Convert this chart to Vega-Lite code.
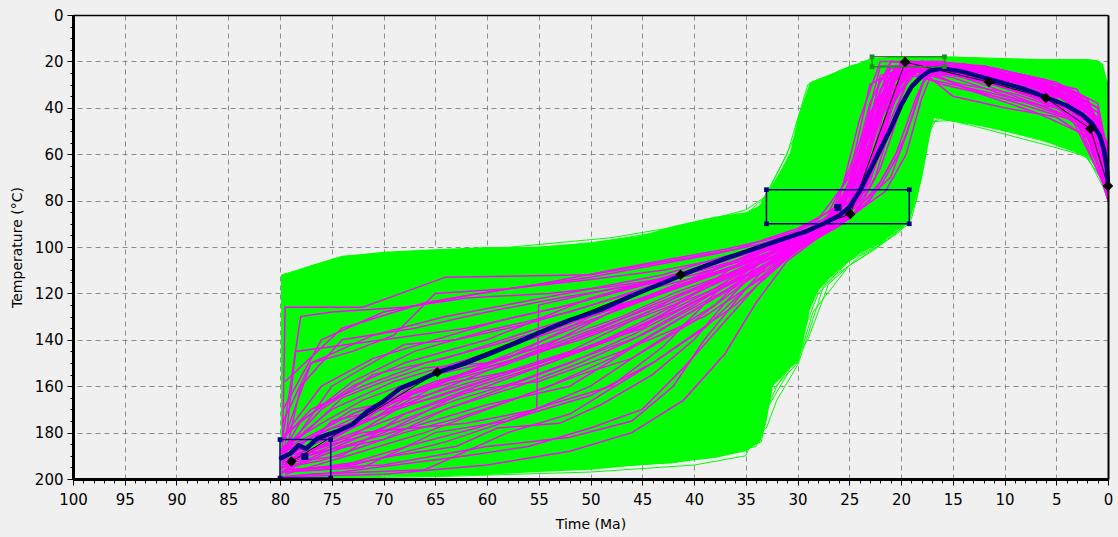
{
  "$schema": "https://vega.github.io/schema/vega-lite/v6.json",
  "width": 1035,
  "height": 464,
  "autosize": {"type": "none"},
  "padding": {"left": 73, "top": 15, "right": 10, "bottom": 58},
  "background": "#f0f0f0",
  "config": {"view": {"fill": "#f0f0f0", "stroke": null}},
  "datasets": {
    "env": [
      {"a":79.9,"top":112,"bot":200},{"a":79,"top":111,"bot":200},{"a":77,"top":108,"bot":200},{"a":74,"top":104,"bot":200},
      {"a":70,"top":102,"bot":199},{"a":65,"top":101,"bot":199},{"a":60,"top":100,"bot":198},{"a":55,"top":100,"bot":197},
      {"a":50,"top":98,"bot":196},{"a":45,"top":95,"bot":194},{"a":42,"top":91,"bot":193},{"a":38,"top":87,"bot":191},
      {"a":35,"top":85,"bot":188},{"a":33.6,"top":82,"bot":184},{"a":33,"top":77,"bot":175},{"a":32.4,"top":73,"bot":160},
      {"a":31.5,"top":66,"bot":156},{"a":30.7,"top":59,"bot":152},{"a":30,"top":45,"bot":150},{"a":29.5,"top":38,"bot":142},
      {"a":28.8,"top":29,"bot":127},{"a":28,"top":27.5,"bot":119},{"a":27,"top":26,"bot":114},{"a":26,"top":24,"bot":110},
      {"a":25,"top":22,"bot":106},{"a":24,"top":21,"bot":103},{"a":22.8,"top":19,"bot":100},{"a":22,"top":18.5,"bot":99},
      {"a":21,"top":18,"bot":95},{"a":20,"top":18,"bot":91.5},{"a":19.2,"top":18,"bot":90},{"a":18.5,"top":18,"bot":78},
      {"a":18,"top":18,"bot":70},{"a":17.5,"top":18,"bot":58},{"a":17.2,"top":18,"bot":50},{"a":16.8,"top":18,"bot":44},
      {"a":16,"top":18,"bot":45},{"a":15,"top":18,"bot":46},{"a":12,"top":18.5,"bot":48},{"a":10,"top":19,"bot":50},
      {"a":7,"top":19,"bot":53},{"a":4.6,"top":19,"bot":57},{"a":2,"top":19,"bot":61},{"a":1,"top":19.5,"bot":65},
      {"a":0.5,"top":21,"bot":74},{"a":0.1,"top":28,"bot":78},{"a":0,"top":30,"bot":79}
    ],
    "green": [
      {"p":1,"a":79.9,"t":199},{"p":1,"a":79.8,"t":112},{"p":1,"a":74,"t":104},{"p":1,"a":68,"t":102},{"p":1,"a":55,"t":100},{"p":1,"a":45,"t":97},{"p":1,"a":38,"t":93},{"p":1,"a":34,"t":85},{"p":1,"a":31,"t":60},{"p":1,"a":29,"t":30},{"p":1,"a":27,"t":26},{"p":1,"a":23,"t":19},{"p":1,"a":16,"t":18},{"p":1,"a":8,"t":19},{"p":1,"a":1,"t":20},{"p":1,"a":0,"t":30},
      {"p":2,"a":79.5,"t":197},{"p":2,"a":79.4,"t":115},{"p":2,"a":77,"t":108},{"p":2,"a":60,"t":101},{"p":2,"a":48,"t":96},{"p":2,"a":40,"t":90},{"p":2,"a":35,"t":84},{"p":2,"a":33,"t":78},{"p":2,"a":30,"t":50},{"p":2,"a":28,"t":30},{"p":2,"a":24,"t":21},{"p":2,"a":22.8,"t":19},{"p":2,"a":15,"t":19},{"p":2,"a":5,"t":22},{"p":2,"a":0.5,"t":25},{"p":2,"a":0,"t":40},
      {"p":3,"a":79.9,"t":199},{"p":3,"a":60,"t":198},{"p":3,"a":50,"t":195},{"p":3,"a":42,"t":193},{"p":3,"a":36,"t":188},{"p":3,"a":33.5,"t":184},{"p":3,"a":32.5,"t":162},{"p":3,"a":30,"t":150},{"p":3,"a":28.5,"t":128},{"p":3,"a":25,"t":108},{"p":3,"a":22.5,"t":101},{"p":3,"a":20,"t":92},{"p":3,"a":18.5,"t":72},{"p":3,"a":17.2,"t":50},{"p":3,"a":16.5,"t":44},{"p":3,"a":12,"t":49},{"p":3,"a":6,"t":56},{"p":3,"a":2,"t":61},{"p":3,"a":0.5,"t":74},{"p":3,"a":0,"t":80},
      {"p":4,"a":79.7,"t":198},{"p":4,"a":70,"t":197},{"p":4,"a":55,"t":193},{"p":4,"a":45,"t":191},{"p":4,"a":38,"t":189},{"p":4,"a":34,"t":186},{"p":4,"a":33,"t":170},{"p":4,"a":31,"t":155},{"p":4,"a":28,"t":120},{"p":4,"a":26,"t":111},{"p":4,"a":23,"t":102},{"p":4,"a":21,"t":96},{"p":4,"a":19,"t":88},{"p":4,"a":18,"t":70},{"p":4,"a":17,"t":46},{"p":4,"a":14,"t":45},{"p":4,"a":9,"t":51},{"p":4,"a":4,"t":57},{"p":4,"a":1,"t":64},{"p":4,"a":0,"t":78},
      {"p":5,"a":79.8,"t":200},{"p":5,"a":65,"t":199},{"p":5,"a":50,"t":197},{"p":5,"a":40,"t":194},{"p":5,"a":35,"t":190},{"p":5,"a":32,"t":160},{"p":5,"a":29,"t":140},{"p":5,"a":27,"t":116},{"p":5,"a":24,"t":104},{"p":5,"a":22,"t":99},{"p":5,"a":20,"t":93},{"p":5,"a":18.5,"t":80},{"p":5,"a":17.5,"t":55},{"p":5,"a":16.7,"t":42},{"p":5,"a":10,"t":48},{"p":5,"a":3,"t":55},{"p":5,"a":0,"t":75},
      {"p":6,"a":79.9,"t":195},{"p":6,"a":79.7,"t":120},{"p":6,"a":72,"t":114},{"p":6,"a":65,"t":112},{"p":6,"a":55,"t":108},{"p":6,"a":48,"t":104},{"p":6,"a":42,"t":98},{"p":6,"a":37,"t":92},{"p":6,"a":33,"t":85},{"p":6,"a":31,"t":66},{"p":6,"a":29.5,"t":44},{"p":6,"a":27,"t":30},{"p":6,"a":25,"t":22},{"p":6,"a":22.8,"t":20},{"p":6,"a":18,"t":18},{"p":6,"a":10,"t":21},{"p":6,"a":3,"t":24},{"p":6,"a":0,"t":50},
      {"p":7,"a":79.6,"t":199},{"p":7,"a":79.5,"t":125},{"p":7,"a":75,"t":118},{"p":7,"a":68,"t":110},{"p":7,"a":60,"t":105},{"p":7,"a":52,"t":100},{"p":7,"a":44,"t":94},{"p":7,"a":38,"t":90},{"p":7,"a":35,"t":86},{"p":7,"a":32,"t":74},{"p":7,"a":30.5,"t":58},{"p":7,"a":28.5,"t":32},{"p":7,"a":26,"t":24},{"p":7,"a":23,"t":20},{"p":7,"a":17,"t":22},{"p":7,"a":12,"t":30},{"p":7,"a":6,"t":28},{"p":7,"a":1,"t":30},{"p":7,"a":0,"t":45},
      {"p":8,"a":79.8,"t":198},{"p":8,"a":68,"t":196},{"p":8,"a":58,"t":192},{"p":8,"a":48,"t":188},{"p":8,"a":40,"t":185},{"p":8,"a":36,"t":182},{"p":8,"a":34,"t":176},{"p":8,"a":32,"t":150},{"p":8,"a":30,"t":135},{"p":8,"a":28,"t":118},{"p":8,"a":26,"t":108},{"p":8,"a":23,"t":98},{"p":8,"a":20,"t":91},{"p":8,"a":19,"t":80},{"p":8,"a":18,"t":60},{"p":8,"a":17,"t":44},{"p":8,"a":13,"t":47},{"p":8,"a":7,"t":52},{"p":8,"a":2,"t":59},{"p":8,"a":0,"t":72},
      {"p":9,"a":79.7,"t":196},{"p":9,"a":75,"t":180},{"p":9,"a":60,"t":160},{"p":9,"a":45,"t":140},{"p":9,"a":35,"t":118},{"p":9,"a":30,"t":105},{"p":9,"a":26,"t":95},{"p":9,"a":22,"t":80},{"p":9,"a":19.5,"t":60},{"p":9,"a":18.5,"t":44},{"p":9,"a":15,"t":42},{"p":9,"a":11,"t":48},{"p":9,"a":7,"t":53},{"p":9,"a":3,"t":56},{"p":9,"a":1,"t":68},{"p":9,"a":0,"t":76},
      {"p":10,"a":79.9,"t":193},{"p":10,"a":70,"t":175},{"p":10,"a":55,"t":150},{"p":10,"a":45,"t":128},{"p":10,"a":36,"t":112},{"p":10,"a":31,"t":100},{"p":10,"a":27,"t":92},{"p":10,"a":24,"t":70},{"p":10,"a":22,"t":50},{"p":10,"a":20,"t":40},{"p":10,"a":17,"t":40},{"p":10,"a":12,"t":44},{"p":10,"a":8,"t":50},{"p":10,"a":4,"t":52},{"p":10,"a":1,"t":60},{"p":10,"a":0,"t":70},
      {"p":11,"a":79.8,"t":190},{"p":11,"a":72,"t":165},{"p":11,"a":62,"t":150},{"p":11,"a":50,"t":140},{"p":11,"a":42,"t":130},{"p":11,"a":35,"t":115},{"p":11,"a":31,"t":106},{"p":11,"a":29,"t":100},{"p":11,"a":26,"t":96},{"p":11,"a":23,"t":92},{"p":11,"a":21,"t":80},{"p":11,"a":19,"t":55},{"p":11,"a":17.5,"t":40},{"p":11,"a":14,"t":36},{"p":11,"a":9,"t":42},{"p":11,"a":5,"t":48},{"p":11,"a":2,"t":52},{"p":11,"a":0,"t":65},
      {"p":12,"a":79.6,"t":199},{"p":12,"a":74,"t":198},{"p":12,"a":60,"t":196},{"p":12,"a":52,"t":190},{"p":12,"a":46,"t":180},{"p":12,"a":41,"t":170},{"p":12,"a":37,"t":150},{"p":12,"a":33,"t":120},{"p":12,"a":30,"t":100},{"p":12,"a":27,"t":85},{"p":12,"a":25,"t":60},{"p":12,"a":24,"t":38},{"p":12,"a":22,"t":24},{"p":12,"a":19,"t":19},{"p":12,"a":11,"t":20},{"p":12,"a":4,"t":22},{"p":12,"a":1,"t":24},{"p":12,"a":0,"t":35},
      {"p":13,"a":79.9,"t":185},{"p":13,"a":76,"t":140},{"p":13,"a":70,"t":130},{"p":13,"a":60,"t":120},{"p":13,"a":50,"t":110},{"p":13,"a":42,"t":104},{"p":13,"a":36,"t":97},{"p":13,"a":33,"t":88},{"p":13,"a":31,"t":75},{"p":13,"a":29,"t":55},{"p":13,"a":27,"t":40},{"p":13,"a":25,"t":28},{"p":13,"a":23,"t":22},{"p":13,"a":18,"t":19},{"p":13,"a":10,"t":19},{"p":13,"a":5,"t":20},{"p":13,"a":1,"t":22},{"p":13,"a":0,"t":32},
      {"p":14,"a":79.7,"t":199},{"p":14,"a":64,"t":197},{"p":14,"a":54,"t":194},{"p":14,"a":46,"t":192},{"p":14,"a":41,"t":190},{"p":14,"a":37,"t":187},{"p":14,"a":35,"t":184},{"p":14,"a":33,"t":178},{"p":14,"a":32,"t":166},{"p":14,"a":30,"t":151},{"p":14,"a":29,"t":138},{"p":14,"a":27.5,"t":117},{"p":14,"a":25,"t":106},{"p":14,"a":23,"t":101},{"p":14,"a":21,"t":95},{"p":14,"a":19.5,"t":91},{"p":14,"a":19,"t":84},{"p":14,"a":18,"t":64},{"p":14,"a":17.5,"t":48},{"p":14,"a":16,"t":44},{"p":14,"a":12,"t":48},{"p":14,"a":8,"t":52},{"p":14,"a":4,"t":56},{"p":14,"a":2,"t":60},{"p":14,"a":0.6,"t":70},{"p":14,"a":0,"t":79}
    ],
    "mag": [
      {"p":1,"a":79.8,"t":195},{"p":1,"a":79.5,"t":126},{"p":1,"a":72,"t":126},{"p":1,"a":64,"t":113},{"p":1,"a":50,"t":112},{"p":1,"a":36,"t":101},{"p":1,"a":30,"t":92},{"p":1,"a":27,"t":85},{"p":1,"a":24,"t":60},{"p":1,"a":21,"t":20},{"p":1,"a":16,"t":22},{"p":1,"a":10,"t":28},{"p":1,"a":5,"t":34},{"p":1,"a":2,"t":42},{"p":1,"a":0,"t":62},
      {"p":2,"a":79.6,"t":190},{"p":2,"a":78.5,"t":145},{"p":2,"a":70,"t":140},{"p":2,"a":62,"t":135},{"p":2,"a":52,"t":125},{"p":2,"a":40,"t":110},{"p":2,"a":30,"t":93},{"p":2,"a":26,"t":82},{"p":2,"a":22,"t":40},{"p":2,"a":20,"t":20},{"p":2,"a":15,"t":24},{"p":2,"a":8,"t":30},{"p":2,"a":3,"t":38},{"p":2,"a":0,"t":70},
      {"p":3,"a":79.9,"t":198},{"p":3,"a":75,"t":175},{"p":3,"a":65,"t":165},{"p":3,"a":55,"t":150},{"p":3,"a":45,"t":135},{"p":3,"a":35,"t":105},{"p":3,"a":28,"t":88},{"p":3,"a":25,"t":70},{"p":3,"a":23,"t":30},{"p":3,"a":19,"t":20},{"p":3,"a":12,"t":26},{"p":3,"a":6,"t":32},{"p":3,"a":1,"t":45},{"p":3,"a":0,"t":65},
      {"p":4,"a":79.5,"t":193},{"p":4,"a":74,"t":190},{"p":4,"a":68,"t":172},{"p":4,"a":60,"t":160},{"p":4,"a":48,"t":140},{"p":4,"a":38,"t":118},{"p":4,"a":30,"t":96},{"p":4,"a":27,"t":89},{"p":4,"a":24,"t":55},{"p":4,"a":21,"t":22},{"p":4,"a":16,"t":24},{"p":4,"a":10,"t":30},{"p":4,"a":4,"t":36},{"p":4,"a":0,"t":78},
      {"p":5,"a":79.9,"t":196},{"p":5,"a":77,"t":185},{"p":5,"a":70,"t":168},{"p":5,"a":66,"t":156},{"p":5,"a":58,"t":148},{"p":5,"a":50,"t":130},{"p":5,"a":42,"t":118},{"p":5,"a":33,"t":100},{"p":5,"a":28,"t":91},{"p":5,"a":25,"t":80},{"p":5,"a":22,"t":35},{"p":5,"a":19,"t":21},{"p":5,"a":13,"t":25},{"p":5,"a":7,"t":31},{"p":5,"a":2,"t":44},{"p":5,"a":0,"t":70},
      {"p":6,"a":79.7,"t":188},{"p":6,"a":78,"t":175},{"p":6,"a":73,"t":160},{"p":6,"a":68,"t":150},{"p":6,"a":60,"t":140},{"p":6,"a":50,"t":122},{"p":6,"a":42,"t":112},{"p":6,"a":35,"t":103},{"p":6,"a":29,"t":94},{"p":6,"a":26,"t":88},{"p":6,"a":23,"t":50},{"p":6,"a":18,"t":20},{"p":6,"a":12,"t":24},{"p":6,"a":6,"t":30},{"p":6,"a":2,"t":40},{"p":6,"a":0,"t":60},
      {"p":7,"a":79.8,"t":197},{"p":7,"a":72,"t":195},{"p":7,"a":65,"t":180},{"p":7,"a":58,"t":175},{"p":7,"a":50,"t":160},{"p":7,"a":45,"t":145},{"p":7,"a":38,"t":125},{"p":7,"a":32,"t":100},{"p":7,"a":28,"t":92},{"p":7,"a":26,"t":86},{"p":7,"a":24,"t":62},{"p":7,"a":22,"t":28},{"p":7,"a":17,"t":21},{"p":7,"a":11,"t":27},{"p":7,"a":5,"t":33},{"p":7,"a":1,"t":50},{"p":7,"a":0,"t":72},
      {"p":8,"a":79.4,"t":186},{"p":8,"a":76,"t":170},{"p":8,"a":71,"t":155},{"p":8,"a":64,"t":148},{"p":8,"a":55,"t":135},{"p":8,"a":45,"t":122},{"p":8,"a":36,"t":108},{"p":8,"a":31,"t":97},{"p":8,"a":27,"t":90},{"p":8,"a":25,"t":84},{"p":8,"a":22,"t":45},{"p":8,"a":20,"t":22},{"p":8,"a":14,"t":26},{"p":8,"a":9,"t":33},{"p":8,"a":3,"t":42},{"p":8,"a":0,"t":75},
      {"p":9,"a":79.9,"t":199},{"p":9,"a":77,"t":198},{"p":9,"a":66,"t":196},{"p":9,"a":58,"t":180},{"p":9,"a":52,"t":172},{"p":9,"a":44,"t":150},{"p":9,"a":36,"t":125},{"p":9,"a":31,"t":105},{"p":9,"a":28,"t":94},{"p":9,"a":25,"t":86},{"p":9,"a":22,"t":60},{"p":9,"a":19,"t":30},{"p":9,"a":17,"t":22},{"p":9,"a":11,"t":30},{"p":9,"a":5,"t":38},{"p":9,"a":1,"t":55},{"p":9,"a":0,"t":80},
      {"p":10,"a":79.6,"t":192},{"p":10,"a":75,"t":185},{"p":10,"a":69,"t":178},{"p":10,"a":62,"t":162},{"p":10,"a":55,"t":158},{"p":10,"a":47,"t":145},{"p":10,"a":39,"t":130},{"p":10,"a":33,"t":112},{"p":10,"a":29,"t":97},{"p":10,"a":26,"t":90},{"p":10,"a":23,"t":65},{"p":10,"a":21,"t":30},{"p":10,"a":18,"t":20},{"p":10,"a":12,"t":24},{"p":10,"a":7,"t":29},{"p":10,"a":2,"t":38},{"p":10,"a":0,"t":58},
      {"p":11,"a":79.7,"t":194},{"p":11,"a":78,"t":160},{"p":11,"a":74,"t":140},{"p":11,"a":67,"t":135},{"p":11,"a":60,"t":128},{"p":11,"a":53,"t":122},{"p":11,"a":45,"t":116},{"p":11,"a":37,"t":106},{"p":11,"a":30,"t":95},{"p":11,"a":27,"t":88},{"p":11,"a":25,"t":76},{"p":11,"a":22,"t":32},{"p":11,"a":20,"t":21},{"p":11,"a":15,"t":23},{"p":11,"a":9,"t":28},{"p":11,"a":4,"t":35},{"p":11,"a":0,"t":68},
      {"p":12,"a":79.9,"t":190},{"p":12,"a":76,"t":188},{"p":12,"a":70,"t":183},{"p":12,"a":64,"t":170},{"p":12,"a":57,"t":160},{"p":12,"a":51,"t":150},{"p":12,"a":46,"t":140},{"p":12,"a":40,"t":125},{"p":12,"a":34,"t":108},{"p":12,"a":30,"t":98},{"p":12,"a":27,"t":91},{"p":12,"a":24,"t":70},{"p":12,"a":22,"t":26},{"p":12,"a":18,"t":22},{"p":12,"a":13,"t":27},{"p":12,"a":8,"t":34},{"p":12,"a":2,"t":46},{"p":12,"a":0,"t":74},
      {"p":13,"a":79.5,"t":197},{"p":13,"a":73,"t":193},{"p":13,"a":67,"t":185},{"p":13,"a":61,"t":178},{"p":13,"a":54,"t":168},{"p":13,"a":48,"t":160},{"p":13,"a":43,"t":143},{"p":13,"a":38,"t":120},{"p":13,"a":33,"t":104},{"p":13,"a":28,"t":93},{"p":13,"a":26,"t":84},{"p":13,"a":23,"t":52},{"p":13,"a":21,"t":25},{"p":13,"a":16,"t":22},{"p":13,"a":10,"t":26},{"p":13,"a":5,"t":30},{"p":13,"a":1,"t":42},{"p":13,"a":0,"t":64},
      {"p":14,"a":79.8,"t":185},{"p":14,"a":77,"t":150},{"p":14,"a":73,"t":145},{"p":14,"a":69,"t":138},{"p":14,"a":65,"t":120},{"p":14,"a":58,"t":118},{"p":14,"a":50,"t":114},{"p":14,"a":43,"t":110},{"p":14,"a":36,"t":104},{"p":14,"a":31,"t":98},{"p":14,"a":28,"t":92},{"p":14,"a":26,"t":80},{"p":14,"a":24,"t":45},{"p":14,"a":22,"t":20},{"p":14,"a":16,"t":20},{"p":14,"a":10,"t":25},{"p":14,"a":4,"t":33},{"p":14,"a":0,"t":66},
      {"p":15,"a":79.6,"t":199},{"p":15,"a":74,"t":197},{"p":15,"a":62,"t":190},{"p":15,"a":56,"t":186},{"p":15,"a":50,"t":178},{"p":15,"a":45,"t":170},{"p":15,"a":41,"t":152},{"p":15,"a":37,"t":132},{"p":15,"a":33,"t":112},{"p":15,"a":29,"t":98},{"p":15,"a":27,"t":90},{"p":15,"a":25,"t":78},{"p":15,"a":23,"t":42},{"p":15,"a":20,"t":24},{"p":15,"a":15,"t":26},{"p":15,"a":9,"t":31},{"p":15,"a":4,"t":40},{"p":15,"a":0,"t":76},
      {"p":16,"a":79.9,"t":192},{"p":16,"a":77,"t":182},{"p":16,"a":73,"t":170},{"p":16,"a":66,"t":164},{"p":16,"a":59,"t":155},{"p":16,"a":52,"t":145},{"p":16,"a":47,"t":134},{"p":16,"a":41,"t":120},{"p":16,"a":35,"t":108},{"p":16,"a":31,"t":100},{"p":16,"a":28,"t":93},{"p":16,"a":26,"t":87},{"p":16,"a":24,"t":66},{"p":16,"a":21,"t":35},{"p":16,"a":19,"t":22},{"p":16,"a":14,"t":23},{"p":16,"a":8,"t":28},{"p":16,"a":3,"t":36},{"p":16,"a":0,"t":62},
      {"p":17,"a":79.7,"t":188},{"p":17,"a":75,"t":178},{"p":17,"a":71,"t":174},{"p":17,"a":67,"t":163},{"p":17,"a":63,"t":158},{"p":17,"a":57,"t":153},{"p":17,"a":50,"t":143},{"p":17,"a":44,"t":130},{"p":17,"a":39,"t":118},{"p":17,"a":34,"t":106},{"p":17,"a":30,"t":96},{"p":17,"a":27,"t":89},{"p":17,"a":25,"t":80},{"p":17,"a":23,"t":58},{"p":17,"a":21,"t":28},{"p":17,"a":17,"t":20},{"p":17,"a":12,"t":22},{"p":17,"a":6,"t":28},{"p":17,"a":2,"t":36},{"p":17,"a":0,"t":56},
      {"p":18,"a":79.5,"t":195},{"p":18,"a":76,"t":192},{"p":18,"a":72,"t":186},{"p":18,"a":68,"t":180},{"p":18,"a":63,"t":174},{"p":18,"a":57,"t":165},{"p":18,"a":51,"t":155},{"p":18,"a":46,"t":148},{"p":18,"a":40,"t":132},{"p":18,"a":35,"t":115},{"p":18,"a":31,"t":102},{"p":18,"a":28,"t":94},{"p":18,"a":26,"t":88},{"p":18,"a":24,"t":72},{"p":18,"a":22,"t":40},{"p":18,"a":20,"t":20},{"p":18,"a":14,"t":21},{"p":18,"a":8,"t":27},{"p":18,"a":3,"t":34},{"p":18,"a":0,"t":70},
      {"p":19,"a":79.9,"t":187},{"p":19,"a":78,"t":182},{"p":19,"a":74,"t":165},{"p":19,"a":70,"t":158},{"p":19,"a":66,"t":152},{"p":19,"a":60,"t":150},{"p":19,"a":54,"t":142},{"p":19,"a":48,"t":128},{"p":19,"a":42,"t":118},{"p":19,"a":37,"t":110},{"p":19,"a":32,"t":102},{"p":19,"a":29,"t":95},{"p":19,"a":27,"t":87},{"p":19,"a":25,"t":74},{"p":19,"a":23,"t":44},{"p":19,"a":21,"t":23},{"p":19,"a":16,"t":24},{"p":19,"a":11,"t":30},{"p":19,"a":6,"t":36},{"p":19,"a":1,"t":48},{"p":19,"a":0,"t":72},
      {"p":20,"a":79.6,"t":196},{"p":20,"a":70,"t":194},{"p":20,"a":60,"t":186},{"p":20,"a":52,"t":182},{"p":20,"a":46,"t":175},{"p":20,"a":42,"t":160},{"p":20,"a":39,"t":140},{"p":20,"a":35,"t":118},{"p":20,"a":32,"t":104},{"p":20,"a":29,"t":96},{"p":20,"a":27,"t":90},{"p":20,"a":25,"t":82},{"p":20,"a":23,"t":60},{"p":20,"a":22,"t":35},{"p":20,"a":19,"t":20},{"p":20,"a":13,"t":24},{"p":20,"a":7,"t":30},{"p":20,"a":2,"t":40},{"p":20,"a":0,"t":78},
      {"p":21,"a":79.8,"t":191},{"p":21,"a":72,"t":180},{"p":21,"a":62,"t":176},{"p":21,"a":55.2,"t":170},{"p":21,"a":55,"t":125},{"p":21,"a":48,"t":118},{"p":21,"a":40,"t":112},{"p":21,"a":33,"t":103},{"p":21,"a":29,"t":95},{"p":21,"a":26,"t":86},{"p":21,"a":23,"t":48},{"p":21,"a":20,"t":22},{"p":21,"a":15,"t":22},{"p":21,"a":9,"t":28},{"p":21,"a":4,"t":36},{"p":21,"a":0,"t":64},
      {"p":22,"a":79.5,"t":189},{"p":22,"a":75,"t":160},{"p":22,"a":68,"t":142},{"p":22,"a":63,"t":140},{"p":22,"a":56,"t":133},{"p":22,"a":46,"t":120},{"p":22,"a":38,"t":111},{"p":22,"a":32,"t":102},{"p":22,"a":28,"t":94},{"p":22,"a":26,"t":88},{"p":22,"a":24,"t":58},{"p":22,"a":22,"t":22},{"p":22,"a":17,"t":22},{"p":22,"a":10,"t":27},{"p":22,"a":5,"t":33},{"p":22,"a":1,"t":44},{"p":22,"a":0,"t":68},
      {"p":23,"a":79.9,"t":197},{"p":23,"a":76,"t":196},{"p":23,"a":69,"t":190},{"p":23,"a":63,"t":186},{"p":23,"a":59,"t":178},{"p":23,"a":53,"t":176},{"p":23,"a":49,"t":168},{"p":23,"a":44,"t":155},{"p":23,"a":40,"t":140},{"p":23,"a":37,"t":124},{"p":23,"a":34,"t":110},{"p":23,"a":30,"t":99},{"p":23,"a":27,"t":92},{"p":23,"a":25,"t":85},{"p":23,"a":23,"t":64},{"p":23,"a":20,"t":30},{"p":23,"a":18,"t":22},{"p":23,"a":12,"t":25},{"p":23,"a":6,"t":32},{"p":23,"a":2,"t":42},{"p":23,"a":0,"t":75},
      {"p":24,"a":79.7,"t":193},{"p":24,"a":74,"t":186},{"p":24,"a":66,"t":176},{"p":24,"a":60,"t":168},{"p":24,"a":52,"t":160},{"p":24,"a":44,"t":138},{"p":24,"a":38,"t":122},{"p":24,"a":33,"t":110},{"p":24,"a":30,"t":100},{"p":24,"a":28,"t":95},{"p":24,"a":26,"t":90},{"p":24,"a":24,"t":75},{"p":24,"a":22,"t":42},{"p":24,"a":20,"t":22},{"p":24,"a":16,"t":25},{"p":24,"a":12,"t":29},{"p":24,"a":6,"t":36},{"p":24,"a":2,"t":50},{"p":24,"a":0,"t":80},
      {"p":25,"a":79.8,"t":184},{"p":25,"a":78,"t":130},{"p":25,"a":75,"t":128},{"p":25,"a":68,"t":126},{"p":25,"a":62,"t":122},{"p":25,"a":54,"t":120},{"p":25,"a":48,"t":117},{"p":25,"a":42,"t":113},{"p":25,"a":36,"t":106},{"p":25,"a":32,"t":100},{"p":25,"a":29,"t":95},{"p":25,"a":27,"t":89},{"p":25,"a":25,"t":72},{"p":25,"a":23,"t":38},{"p":25,"a":21,"t":20},{"p":25,"a":15,"t":21},{"p":25,"a":9,"t":26},{"p":25,"a":3,"t":32},{"p":25,"a":0,"t":58},
      {"p":26,"a":79.8,"t":190},{"p":26,"a":75,"t":182},{"p":26,"a":70,"t":172},{"p":26,"a":65,"t":160},{"p":26,"a":60,"t":150},{"p":26,"a":55,"t":141},{"p":26,"a":50,"t":132},{"p":26,"a":45,"t":122},{"p":26,"a":40,"t":113},{"p":26,"a":35,"t":104},{"p":26,"a":30,"t":96},{"p":26,"a":27,"t":90},{"p":26,"a":24,"t":82},{"p":26,"a":21,"t":70},{"p":26,"a":19,"t":45},{"p":26,"a":17.5,"t":24},{"p":26,"a":14,"t":22},{"p":26,"a":8,"t":27},{"p":26,"a":3,"t":34},{"p":26,"a":0,"t":60},
      {"p":27,"a":79.6,"t":194},{"p":27,"a":74,"t":184},{"p":27,"a":68,"t":168},{"p":27,"a":62,"t":157},{"p":27,"a":56,"t":146},{"p":27,"a":50,"t":136},{"p":27,"a":44,"t":126},{"p":27,"a":38,"t":115},{"p":27,"a":33,"t":106},{"p":27,"a":29,"t":98},{"p":27,"a":27,"t":92},{"p":27,"a":25,"t":88},{"p":27,"a":22,"t":72},{"p":27,"a":19.5,"t":52},{"p":27,"a":18,"t":30},{"p":27,"a":16.5,"t":22},{"p":27,"a":11,"t":26},{"p":27,"a":5,"t":32},{"p":27,"a":1,"t":42},{"p":27,"a":0,"t":66},
      {"p":28,"a":79.9,"t":197},{"p":28,"a":76,"t":190},{"p":28,"a":70,"t":180},{"p":28,"a":64,"t":170},{"p":28,"a":58,"t":160},{"p":28,"a":52,"t":150},{"p":28,"a":46,"t":138},{"p":28,"a":40,"t":124},{"p":28,"a":35,"t":112},{"p":28,"a":31,"t":102},{"p":28,"a":28,"t":95},{"p":28,"a":26,"t":90},{"p":28,"a":23,"t":80},{"p":28,"a":20.5,"t":60},{"p":28,"a":18.5,"t":35},{"p":28,"a":17,"t":22},{"p":28,"a":12,"t":24},{"p":28,"a":7,"t":30},{"p":28,"a":2,"t":40},{"p":28,"a":0,"t":72},
      {"p":29,"a":79.7,"t":186},{"p":29,"a":76,"t":176},{"p":29,"a":72,"t":166},{"p":29,"a":66,"t":156},{"p":29,"a":61,"t":148},{"p":29,"a":55,"t":138},{"p":29,"a":49,"t":128},{"p":29,"a":43,"t":119},{"p":29,"a":37,"t":110},{"p":29,"a":32,"t":101},{"p":29,"a":29,"t":95},{"p":29,"a":27,"t":90},{"p":29,"a":25,"t":85},{"p":29,"a":23,"t":72},{"p":29,"a":21,"t":45},{"p":29,"a":19,"t":25},{"p":29,"a":15,"t":22},{"p":29,"a":9,"t":27},{"p":29,"a":4,"t":33},{"p":29,"a":0,"t":62},
      {"p":30,"a":79.5,"t":198},{"p":30,"a":72,"t":188},{"p":30,"a":66,"t":180},{"p":30,"a":60,"t":170},{"p":30,"a":54,"t":160},{"p":30,"a":48,"t":148},{"p":30,"a":43,"t":135},{"p":30,"a":38,"t":122},{"p":30,"a":34,"t":110},{"p":30,"a":30,"t":100},{"p":30,"a":28,"t":94},{"p":30,"a":26,"t":89},{"p":30,"a":24,"t":80},{"p":30,"a":22,"t":55},{"p":30,"a":20,"t":28},{"p":30,"a":17,"t":21},{"p":30,"a":10,"t":24},{"p":30,"a":5,"t":29},{"p":30,"a":1,"t":38},{"p":30,"a":0,"t":60},
      {"p":31,"a":79.8,"t":192},{"p":31,"a":77,"t":188},{"p":31,"a":73,"t":178},{"p":31,"a":69,"t":166},{"p":31,"a":64,"t":158},{"p":31,"a":59,"t":152},{"p":31,"a":54,"t":144},{"p":31,"a":49,"t":135},{"p":31,"a":44,"t":125},{"p":31,"a":39,"t":116},{"p":31,"a":34,"t":107},{"p":31,"a":30,"t":99},{"p":31,"a":28,"t":94},{"p":31,"a":26.5,"t":90},{"p":31,"a":25,"t":86},{"p":31,"a":23.5,"t":74},{"p":31,"a":22,"t":52},{"p":31,"a":20.5,"t":32},{"p":31,"a":19,"t":22},{"p":31,"a":13,"t":23},{"p":31,"a":7,"t":28},{"p":31,"a":2,"t":37},{"p":31,"a":0,"t":64},
      {"p":32,"a":79.9,"t":189},{"p":32,"a":76,"t":180},{"p":32,"a":71,"t":170},{"p":32,"a":67,"t":162},{"p":32,"a":62,"t":154},{"p":32,"a":57,"t":146},{"p":32,"a":52,"t":138},{"p":32,"a":47,"t":130},{"p":32,"a":42,"t":120},{"p":32,"a":37,"t":112},{"p":32,"a":32,"t":104},{"p":32,"a":29,"t":97},{"p":32,"a":27,"t":92},{"p":32,"a":25.5,"t":88},{"p":32,"a":24,"t":80},{"p":32,"a":22.5,"t":62},{"p":32,"a":21,"t":40},{"p":32,"a":19.5,"t":25},{"p":32,"a":16,"t":22},{"p":32,"a":10,"t":26},{"p":32,"a":5,"t":31},{"p":32,"a":1,"t":40},{"p":32,"a":0,"t":62},
      {"p":33,"a":79.6,"t":196},{"p":33,"a":73,"t":194},{"p":33,"a":64,"t":184},{"p":33,"a":56,"t":172},{"p":33,"a":50,"t":164},{"p":33,"a":44,"t":150},{"p":33,"a":39,"t":135},{"p":33,"a":35,"t":118},{"p":33,"a":31,"t":104},{"p":33,"a":28,"t":96},{"p":33,"a":26,"t":91},{"p":33,"a":24,"t":84},{"p":33,"a":22,"t":74},{"p":33,"a":20,"t":58},{"p":33,"a":18.5,"t":38},{"p":33,"a":17.5,"t":24},{"p":33,"a":13,"t":26},{"p":33,"a":8,"t":31},{"p":33,"a":3,"t":38},{"p":33,"a":0,"t":70},
      {"p":34,"a":79.7,"t":199},{"p":34,"a":70,"t":198},{"p":34,"a":60,"t":194},{"p":34,"a":52,"t":188},{"p":34,"a":46,"t":180},{"p":34,"a":41,"t":166},{"p":34,"a":37,"t":146},{"p":34,"a":34,"t":124},{"p":34,"a":31,"t":106},{"p":34,"a":28,"t":96},{"p":34,"a":26,"t":90},{"p":34,"a":24,"t":78},{"p":34,"a":21,"t":50},{"p":34,"a":19,"t":30},{"p":34,"a":17,"t":21},{"p":34,"a":12,"t":25},{"p":34,"a":6,"t":31},{"p":34,"a":2,"t":44},{"p":34,"a":0,"t":74},
      {"p":35,"a":79.8,"t":183},{"p":35,"a":77,"t":170},{"p":35,"a":72,"t":160},{"p":35,"a":66,"t":150},{"p":35,"a":60,"t":143},{"p":35,"a":53,"t":134},{"p":35,"a":46,"t":124},{"p":35,"a":40,"t":115},{"p":35,"a":35,"t":107},{"p":35,"a":31,"t":100},{"p":35,"a":28,"t":94},{"p":35,"a":26,"t":89},{"p":35,"a":24,"t":84},{"p":35,"a":21.5,"t":76},{"p":35,"a":19.5,"t":60},{"p":35,"a":18,"t":36},{"p":35,"a":17,"t":25},{"p":35,"a":15,"t":23},{"p":35,"a":9,"t":28},{"p":35,"a":4,"t":36},{"p":35,"a":0,"t":66},
      {"p":36,"a":79.5,"t":190},{"p":36,"a":74,"t":178},{"p":36,"a":68,"t":165},{"p":36,"a":63,"t":156},{"p":36,"a":57,"t":148},{"p":36,"a":51,"t":140},{"p":36,"a":45,"t":130},{"p":36,"a":39,"t":120},{"p":36,"a":34,"t":110},{"p":36,"a":30,"t":101},{"p":36,"a":27.5,"t":94},{"p":36,"a":25.5,"t":88},{"p":36,"a":23.5,"t":76},{"p":36,"a":21.5,"t":50},{"p":36,"a":20,"t":26},{"p":36,"a":17,"t":20},{"p":36,"a":11,"t":23},{"p":36,"a":5,"t":30},{"p":36,"a":1,"t":40},{"p":36,"a":0,"t":62},
      {"p":37,"a":79.9,"t":195},{"p":37,"a":78,"t":193},{"p":37,"a":74,"t":185},{"p":37,"a":69,"t":176},{"p":37,"a":63,"t":166},{"p":37,"a":57,"t":158},{"p":37,"a":51,"t":148},{"p":37,"a":45,"t":138},{"p":37,"a":40,"t":126},{"p":37,"a":35,"t":114},{"p":37,"a":31,"t":103},{"p":37,"a":28.5,"t":96},{"p":37,"a":26.5,"t":91},{"p":37,"a":24.5,"t":85},{"p":37,"a":22.5,"t":70},{"p":37,"a":21,"t":48},{"p":37,"a":19.5,"t":30},{"p":37,"a":18,"t":22},{"p":37,"a":12,"t":22},{"p":37,"a":6,"t":28},{"p":37,"a":2,"t":36},{"p":37,"a":0,"t":58},
      {"p":38,"a":79.7,"t":191},{"p":38,"a":72,"t":175},{"p":38,"a":62,"t":160},{"p":38,"a":52,"t":146},{"p":38,"a":42,"t":128},{"p":38,"a":34,"t":110},{"p":38,"a":29,"t":97},{"p":38,"a":26,"t":89},{"p":38,"a":23.5,"t":70},{"p":38,"a":21,"t":40},{"p":38,"a":19,"t":26},{"p":38,"a":17,"t":28},{"p":38,"a":12,"t":33},{"p":38,"a":7,"t":38},{"p":38,"a":3,"t":45},{"p":38,"a":1,"t":55},{"p":38,"a":0,"t":76},
      {"p":39,"a":79.6,"t":187},{"p":39,"a":73,"t":172},{"p":39,"a":65,"t":158},{"p":39,"a":57,"t":148},{"p":39,"a":49,"t":136},{"p":39,"a":41,"t":122},{"p":39,"a":35,"t":110},{"p":39,"a":30,"t":99},{"p":39,"a":27,"t":92},{"p":39,"a":25,"t":86},{"p":39,"a":23,"t":66},{"p":39,"a":21,"t":36},{"p":39,"a":19,"t":24},{"p":39,"a":14,"t":30},{"p":39,"a":9,"t":34},{"p":39,"a":5,"t":40},{"p":39,"a":2,"t":48},{"p":39,"a":0,"t":78},
      {"p":40,"a":79.7,"t":170},{"p":40,"a":76,"t":140},{"p":40,"a":70,"t":128},{"p":40,"a":62,"t":121},{"p":40,"a":55,"t":116},{"p":40,"a":48,"t":110},{"p":40,"a":42,"t":105},{"p":40,"a":37,"t":101},{"p":40,"a":33,"t":97},{"p":40,"a":30,"t":93},{"p":40,"a":27.5,"t":88},{"p":40,"a":25.5,"t":82},{"p":40,"a":23.5,"t":62},{"p":40,"a":21.5,"t":30},{"p":40,"a":19.5,"t":20},{"p":40,"a":14,"t":24},{"p":40,"a":8,"t":32},{"p":40,"a":3,"t":42},{"p":40,"a":0,"t":70},
      {"p":41,"a":79.5,"t":158},{"p":41,"a":74,"t":135},{"p":41,"a":66,"t":124},{"p":41,"a":58,"t":118},{"p":41,"a":50,"t":113},{"p":41,"a":44,"t":108},{"p":41,"a":38,"t":103},{"p":41,"a":33,"t":98},{"p":41,"a":29,"t":92},{"p":41,"a":26.5,"t":86},{"p":41,"a":24.5,"t":70},{"p":41,"a":22.5,"t":40},{"p":41,"a":20.5,"t":22},{"p":41,"a":15,"t":27},{"p":41,"a":9,"t":36},{"p":41,"a":4,"t":44},{"p":41,"a":1,"t":55},{"p":41,"a":0,"t":76},
      {"p":42,"a":79.8,"t":176},{"p":42,"a":77,"t":150},{"p":42,"a":71,"t":138},{"p":42,"a":64,"t":130},{"p":42,"a":57,"t":124},{"p":42,"a":50,"t":118},{"p":42,"a":43,"t":112},{"p":42,"a":37,"t":104},{"p":42,"a":32,"t":99},{"p":42,"a":29,"t":94},{"p":42,"a":27,"t":89},{"p":42,"a":25,"t":80},{"p":42,"a":23,"t":54},{"p":42,"a":21,"t":26},{"p":42,"a":18,"t":21},{"p":42,"a":12,"t":30},{"p":42,"a":6,"t":40},{"p":42,"a":2,"t":48},{"p":42,"a":0,"t":72},
      {"p":43,"a":79.6,"t":181},{"p":43,"a":73,"t":158},{"p":43,"a":67,"t":145},{"p":43,"a":60,"t":136},{"p":43,"a":52,"t":128},{"p":43,"a":45,"t":118},{"p":43,"a":39,"t":108},{"p":43,"a":34,"t":101},{"p":43,"a":30,"t":96},{"p":43,"a":27.5,"t":91},{"p":43,"a":25.5,"t":86},{"p":43,"a":23.5,"t":68},{"p":43,"a":21.5,"t":36},{"p":43,"a":19,"t":22},{"p":43,"a":14,"t":31},{"p":43,"a":8,"t":39},{"p":43,"a":3,"t":46},{"p":43,"a":0,"t":74},
      {"p":44,"a":79.9,"t":188},{"p":44,"a":75,"t":170},{"p":44,"a":69,"t":158},{"p":44,"a":63,"t":150},{"p":44,"a":56,"t":140},{"p":44,"a":49,"t":130},{"p":44,"a":43,"t":120},{"p":44,"a":38,"t":112},{"p":44,"a":33,"t":104},{"p":44,"a":29,"t":96},{"p":44,"a":26.5,"t":90},{"p":44,"a":24.5,"t":82},{"p":44,"a":22.5,"t":58},{"p":44,"a":20.5,"t":30},{"p":44,"a":18.5,"t":22},{"p":44,"a":13,"t":33},{"p":44,"a":7,"t":42},{"p":44,"a":2,"t":52},{"p":44,"a":0,"t":78},
      {"p":45,"a":79.7,"t":194},{"p":45,"a":74,"t":182},{"p":45,"a":68,"t":172},{"p":45,"a":61,"t":160},{"p":45,"a":54,"t":150},{"p":45,"a":47,"t":138},{"p":45,"a":41,"t":126},{"p":45,"a":36,"t":115},{"p":45,"a":31,"t":104},{"p":45,"a":28,"t":96},{"p":45,"a":26,"t":91},{"p":45,"a":24,"t":83},{"p":45,"a":22,"t":66},{"p":45,"a":20,"t":40},{"p":45,"a":18,"t":24},{"p":45,"a":15,"t":35},{"p":45,"a":10,"t":40},{"p":45,"a":5,"t":44},{"p":45,"a":1,"t":56},{"p":45,"a":0,"t":78},
      {"p":46,"a":79.4,"t":180},{"p":46,"a":76,"t":160},{"p":46,"a":71,"t":148},{"p":46,"a":65,"t":140},{"p":46,"a":59,"t":132},{"p":46,"a":53,"t":126},{"p":46,"a":47,"t":119},{"p":46,"a":41,"t":112},{"p":46,"a":36,"t":106},{"p":46,"a":31,"t":99},{"p":46,"a":28,"t":93},{"p":46,"a":25.5,"t":86},{"p":46,"a":23,"t":70},{"p":46,"a":21,"t":42},{"p":46,"a":19.5,"t":24},{"p":46,"a":16,"t":30},{"p":46,"a":10,"t":36},{"p":46,"a":5,"t":40},{"p":46,"a":1,"t":50},{"p":46,"a":0,"t":72}
    ],
    "best": [
      {"a":79.9,"t":191},{"a":79,"t":189},{"a":78.2,"t":185.5},{"a":77.5,"t":187},{"a":77,"t":185},{"a":76.4,"t":182.5},{"a":75.5,"t":181},{"a":74.5,"t":179.5},{"a":73,"t":176.5},{"a":71.6,"t":171},{"a":70,"t":166.5},{"a":68.4,"t":161},{"a":66.5,"t":157.5},{"a":64.8,"t":154},{"a":62,"t":150},{"a":60,"t":146.5},{"a":57,"t":141},{"a":55,"t":137},{"a":52,"t":131.5},{"a":49,"t":127},{"a":46,"t":121},{"a":43,"t":115.5},{"a":40,"t":110},{"a":37,"t":105},{"a":34,"t":100.5},{"a":31,"t":96},{"a":29,"t":93},{"a":27.5,"t":90},{"a":26,"t":86.5},{"a":25,"t":83},{"a":24,"t":76},{"a":23,"t":67},{"a":22,"t":58},{"a":21,"t":49},{"a":20,"t":39},{"a":19,"t":31},{"a":18,"t":26.5},{"a":17.2,"t":24},{"a":16,"t":23},{"a":14,"t":24.5},{"a":12,"t":27},{"a":10,"t":29.5},{"a":8,"t":32},{"a":6,"t":35.5},{"a":4,"t":39},{"a":2.5,"t":43},{"a":1.5,"t":47},{"a":0.8,"t":52},{"a":0.4,"t":58},{"a":0.1,"t":66},{"a":0,"t":73}
    ],
    "blk": [
      {"a":78.9,"t":192.5},{"a":64.8,"t":154},{"a":41.3,"t":112},{"a":24.9,"t":85.8},{"a":19.6,"t":20.3},{"a":11.5,"t":28.9},{"a":6,"t":35.8},{"a":1.7,"t":49},{"a":0,"t":73.7}
    ],
    "boxes": [
      {"k":"A","a1":80,"a2":75.1,"t1":183,"t2":199.6},
      {"k":"A","a1":33,"a2":19.2,"t1":75.3,"t2":90},
      {"k":"B","a1":22.8,"a2":15.8,"t1":18,"t2":22.3}
    ],
    "corners": [
      {"k":"A","a":80,"t":183},{"k":"A","a":75.1,"t":183},{"k":"A","a":80,"t":199.6},{"k":"A","a":75.1,"t":199.6},
      {"k":"A","a":33,"t":75.3},{"k":"A","a":19.2,"t":75.3},{"k":"A","a":33,"t":90},{"k":"A","a":19.2,"t":90},
      {"k":"B","a":22.8,"t":18},{"k":"B","a":15.8,"t":18},{"k":"B","a":22.8,"t":22.3},{"k":"B","a":15.8,"t":22.3}
    ],
    "sq": [
      {"a":77.6,"t":190.3},{"a":26.1,"t":83}
    ]
  },
  "resolve": {"axis": {"x": "independent", "y": "independent"}},
  "layer": [
    {
      "data": {"name": "env"},
      "mark": {"type": "area", "color": "#00ff00", "opacity": 1},
      "encoding": {
        "x": {"field": "a", "type": "quantitative",
          "scale": {"domain": [0, 100], "reverse": true, "nice": false, "zero": false},
          "axis": {"orient": "bottom", "values": [0,5,10,15,20,25,30,35,40,45,50,55,60,65,70,75,80,85,90,95,100],
            "title": "Time (Ma)", "grid": true, "gridColor": "#8c8c8c", "gridDash": [5, 4], "gridWidth": 1,
            "domain": false, "ticks": true, "tickColor": "black", "tickSize": 6, "tickWidth": 1,
            "labelFont": "DejaVu Sans", "labelFontSize": 15, "labelColor": "black", "labelPadding": 7,
            "labelFlush": false, "labelOverlap": false,
            "titleFont": "DejaVu Sans", "titleFontSize": 14, "titleFontWeight": "normal", "titleColor": "black",
            "titleY": 45, "titleBaseline": "middle"}},
        "y": {"field": "top", "type": "quantitative",
          "scale": {"domain": [0, 200], "reverse": true, "nice": false, "zero": false},
          "axis": {"orient": "left", "values": [0,20,40,60,80,100,120,140,160,180,200],
            "title": "Temperature (°C)", "grid": true, "gridColor": "#8c8c8c", "gridDash": [5, 4], "gridWidth": 1,
            "domain": false, "ticks": true, "tickColor": "black", "tickSize": 6, "tickWidth": 1,
            "labelFont": "DejaVu Sans", "labelFontSize": 15, "labelColor": "black", "labelPadding": 4,
            "labelFlush": false, "labelOverlap": false,
            "titleFont": "DejaVu Sans", "titleFontSize": 14, "titleFontWeight": "normal", "titleColor": "black",
            "titleX": -56, "titleY": 232, "titleAngle": -90, "titleAlign": "center", "titleBaseline": "middle"}},
        "y2": {"field": "bot"}
      }
    },
    {
      "data": {"name": "green"},
      "mark": {"type": "line", "color": "#00ff00", "strokeWidth": 1},
      "encoding": {
        "x": {"field": "a", "type": "quantitative", "scale": {"domain": [0, 100], "reverse": true, "nice": false, "zero": false},
          "axis": {"orient": "bottom", "values": [0,1,2,3,4,5,6,7,8,9,10,11,12,13,14,15,16,17,18,19,20,21,22,23,24,25,26,27,28,29,30,31,32,33,34,35,36,37,38,39,40,41,42,43,44,45,46,47,48,49,50,51,52,53,54,55,56,57,58,59,60,61,62,63,64,65,66,67,68,69,70,71,72,73,74,75,76,77,78,79,80,81,82,83,84,85,86,87,88,89,90,91,92,93,94,95,96,97,98,99,100],
            "labels": false, "title": null, "grid": false, "domain": true, "domainColor": "black", "domainWidth": 3,
            "ticks": true, "tickColor": "black", "tickSize": 4, "tickWidth": 1, "zindex": 1}},
        "y": {"field": "t", "type": "quantitative", "scale": {"domain": [0, 200], "reverse": true, "nice": false, "zero": false},
          "axis": {"orient": "left", "values": [0,5,10,15,20,25,30,35,40,45,50,55,60,65,70,75,80,85,90,95,100,105,110,115,120,125,130,135,140,145,150,155,160,165,170,175,180,185,190,195,200],
            "labels": false, "title": null, "grid": false, "domain": true, "domainColor": "black", "domainWidth": 3,
            "ticks": true, "tickColor": "black", "tickSize": 3, "tickWidth": 1, "zindex": 1}},
        "detail": {"field": "p", "type": "nominal"}
      }
    },
    {
      "data": {"name": "mag"},
      "mark": {"type": "line", "color": "#ff00ff", "strokeWidth": 1.5},
      "encoding": {
        "x": {"field": "a", "type": "quantitative", "scale": {"domain": [0, 100], "reverse": true, "nice": false, "zero": false},
          "axis": {"orient": "top", "values": [], "labels": false, "title": null, "grid": false, "ticks": false,
            "domain": true, "domainColor": "black", "domainWidth": 1.5, "zindex": 1}},
        "y": {"field": "t", "type": "quantitative", "scale": {"domain": [0, 200], "reverse": true, "nice": false, "zero": false},
          "axis": {"orient": "right", "values": [], "labels": false, "title": null, "grid": false, "ticks": false,
            "domain": true, "domainColor": "black", "domainWidth": 2, "zindex": 1}},
        "detail": {"field": "p", "type": "nominal"}
      }
    },
    {
      "data": {"name": "blk"},
      "mark": {"type": "line", "color": "black", "strokeWidth": 1},
      "encoding": {
        "x": {"field": "a", "type": "quantitative", "scale": {"domain": [0, 100], "reverse": true, "nice": false, "zero": false}, "axis": null},
        "y": {"field": "t", "type": "quantitative", "scale": {"domain": [0, 200], "reverse": true, "nice": false, "zero": false}, "axis": null}
      }
    },
    {
      "data": {"name": "best"},
      "mark": {"type": "line", "color": "#000080", "strokeWidth": 4.5, "strokeCap": "round", "strokeJoin": "round"},
      "encoding": {
        "x": {"field": "a", "type": "quantitative", "scale": {"domain": [0, 100], "reverse": true, "nice": false, "zero": false}, "axis": null},
        "y": {"field": "t", "type": "quantitative", "scale": {"domain": [0, 200], "reverse": true, "nice": false, "zero": false}, "axis": null}
      }
    },
    {
      "data": {"name": "boxes"},
      "mark": {"type": "rect", "filled": false, "strokeWidth": 1.5},
      "encoding": {
        "x": {"field": "a1", "type": "quantitative", "scale": {"domain": [0, 100], "reverse": true, "nice": false, "zero": false}, "axis": null},
        "x2": {"field": "a2"},
        "y": {"field": "t1", "type": "quantitative", "scale": {"domain": [0, 200], "reverse": true, "nice": false, "zero": false}, "axis": null},
        "y2": {"field": "t2"},
        "color": {"field": "k", "type": "nominal", "scale": {"domain": ["A", "B"], "range": ["#000080", "#228b22"]}, "legend": null}
      }
    },
    {
      "data": {"name": "corners"},
      "mark": {"type": "point", "shape": "square", "filled": true, "size": 22, "opacity": 1},
      "encoding": {
        "x": {"field": "a", "type": "quantitative", "scale": {"domain": [0, 100], "reverse": true, "nice": false, "zero": false}, "axis": null},
        "y": {"field": "t", "type": "quantitative", "scale": {"domain": [0, 200], "reverse": true, "nice": false, "zero": false}, "axis": null},
        "color": {"field": "k", "type": "nominal", "scale": {"domain": ["A", "B"], "range": ["#000080", "#228b22"]}, "legend": null}
      }
    },
    {
      "data": {"name": "sq"},
      "mark": {"type": "point", "shape": "square", "filled": true, "size": 50, "color": "#000080", "opacity": 1},
      "encoding": {
        "x": {"field": "a", "type": "quantitative", "scale": {"domain": [0, 100], "reverse": true, "nice": false, "zero": false}, "axis": null},
        "y": {"field": "t", "type": "quantitative", "scale": {"domain": [0, 200], "reverse": true, "nice": false, "zero": false}, "axis": null}
      }
    },
    {
      "data": {"name": "blk"},
      "mark": {"type": "point", "shape": "diamond", "filled": true, "size": 110, "color": "black", "opacity": 1},
      "encoding": {
        "x": {"field": "a", "type": "quantitative", "scale": {"domain": [0, 100], "reverse": true, "nice": false, "zero": false}, "axis": null},
        "y": {"field": "t", "type": "quantitative", "scale": {"domain": [0, 200], "reverse": true, "nice": false, "zero": false}, "axis": null}
      }
    }
  ]
}
